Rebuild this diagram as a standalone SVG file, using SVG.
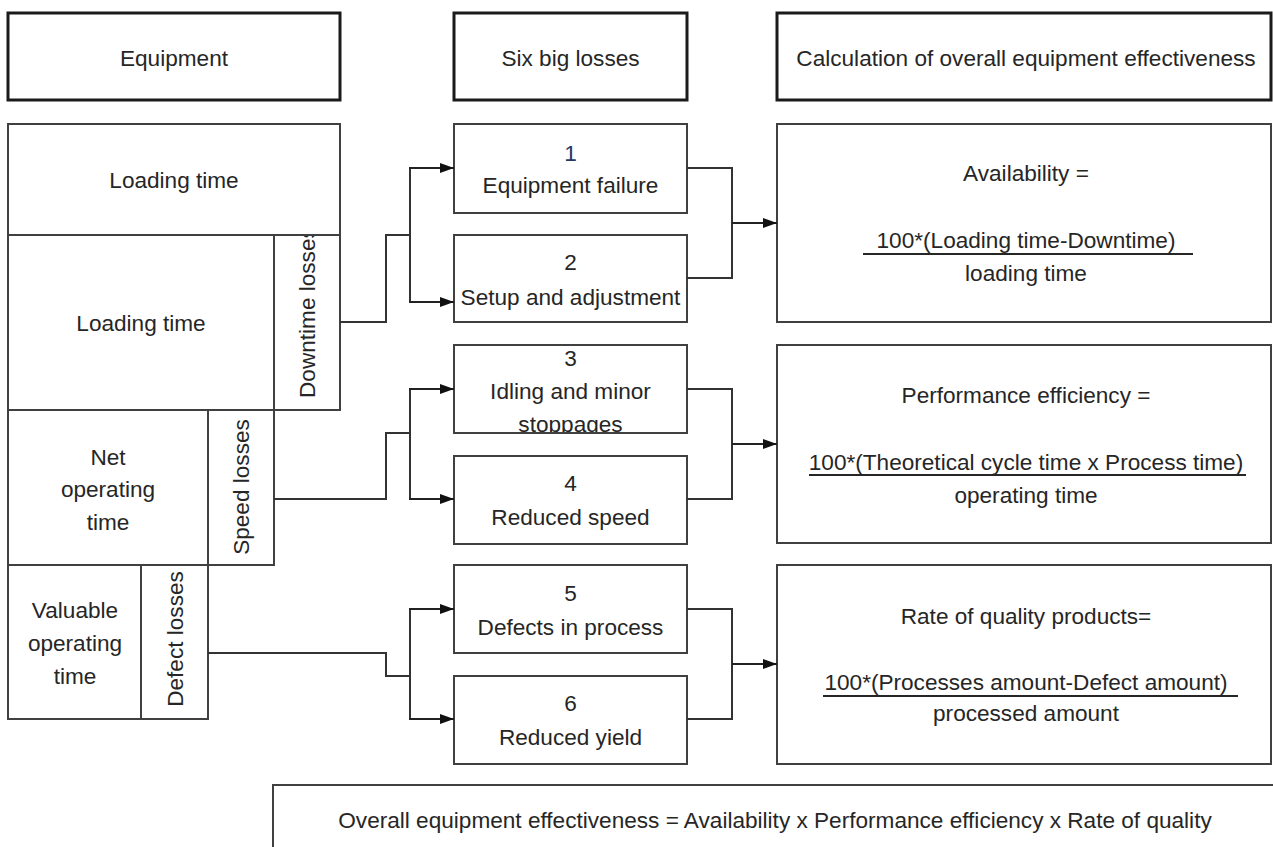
<svg xmlns="http://www.w3.org/2000/svg" width="1273" height="847" viewBox="0 0 1273 847">
<style>
text{font-family:"Liberation Sans",Arial,sans-serif;font-size:22.6px;fill:#262626;text-anchor:middle;dominant-baseline:central}
.hdr{fill:#fff;stroke:#1a1a1a;stroke-width:3}
.box{fill:#fff;stroke:#404040;stroke-width:2}
.con{fill:none;stroke:#333;stroke-width:2}
.arr{fill:none;stroke:#222;stroke-width:2;marker-end:url(#ah)}
.ul{stroke:#262626;stroke-width:2}
</style>
<defs>
<marker id="ah" markerUnits="userSpaceOnUse" markerWidth="14" markerHeight="10" refX="14" refY="5" orient="auto"><path d="M0,0 L14,5 L0,10 z" fill="#111"/></marker>
<clipPath id="clipDown"><rect x="275" y="236" width="64" height="173"/></clipPath>
<clipPath id="clipB3"><rect x="455" y="346" width="231" height="86"/></clipPath>
</defs>
<rect width="1273" height="847" fill="#fff"/>

<g id="hdr-equipment"><rect class="hdr" x="8" y="13" width="332" height="87"/><text x="174" y="58">Equipment</text></g>
<g id="hdr-losses"><rect class="hdr" x="454" y="13" width="233" height="87"/><text x="570.5" y="58">Six big losses</text></g>
<g id="hdr-calc"><rect class="hdr" x="777" y="13" width="494" height="87"/><text x="1026" y="58">Calculation of overall equipment effectiveness</text></g>

<g id="eq-loading1"><rect class="box" x="8" y="124" width="332" height="111"/><text x="174" y="180">Loading time</text></g>
<g id="eq-loading2"><rect class="box" x="8" y="235" width="266" height="175"/><text x="141" y="323">Loading time</text></g>
<g id="eq-downtime"><rect class="box" x="274" y="235" width="66" height="175"/><g clip-path="url(#clipDown)"><text transform="translate(307,398) rotate(-90)" x="0" y="0" style="text-anchor:start">Downtime losses</text></g></g>
<g id="eq-net"><rect class="box" x="8" y="410" width="200" height="155"/><text x="108" y="457">Net</text><text x="108" y="489.5">operating</text><text x="108" y="522">time</text></g>
<g id="eq-speed"><rect class="box" x="208" y="410" width="66" height="155"/><text transform="translate(241,487) rotate(-90)">Speed losses</text></g>
<g id="eq-valuable"><rect class="box" x="8" y="565" width="133" height="154"/><text x="75" y="610">Valuable</text><text x="75" y="643">operating</text><text x="75" y="676">time</text></g>
<g id="eq-defect"><rect class="box" x="141" y="565" width="67" height="154"/><text transform="translate(175,639) rotate(-90)">Defect losses</text></g>

<g id="loss1"><rect class="box" x="454" y="124" width="233" height="89"/><text x="570.5" y="153" style="fill:#203864">1</text><text x="570.5" y="185">Equipment failure</text></g>
<g id="loss2"><rect class="box" x="454" y="235" width="233" height="87"/><text x="570.5" y="262">2</text><text x="570.5" y="297">Setup and adjustment</text></g>
<g id="loss3"><rect class="box" x="454" y="345" width="233" height="88" style="fill:#fff"/><g clip-path="url(#clipB3)"><text x="570.5" y="358">3</text><text x="570.5" y="391">Idling and minor</text><text x="570.5" y="424">stoppages</text></g><rect x="454" y="345" width="233" height="88" style="fill:none;stroke:#404040;stroke-width:2"/></g>
<g id="loss4"><rect class="box" x="454" y="456" width="233" height="88"/><text x="570.5" y="483">4</text><text x="570.5" y="517">Reduced speed</text></g>
<g id="loss5"><rect class="box" x="454" y="565" width="233" height="88"/><text x="570.5" y="593">5</text><text x="570.5" y="627">Defects in process</text></g>
<g id="loss6"><rect class="box" x="454" y="676" width="233" height="88"/><text x="570.5" y="703">6</text><text x="570.5" y="737">Reduced yield</text></g>

<g id="calc-availability"><rect class="box" x="777" y="124" width="494" height="198"/><text x="1026" y="173">Availability =</text><text x="1026" y="240">100*(Loading time-Downtime)</text><line class="ul" x1="863" y1="254" x2="1193" y2="254"/><text x="1026" y="273">loading time</text></g>
<g id="calc-performance"><rect class="box" x="777" y="345" width="494" height="198"/><text x="1026" y="395">Performance efficiency =</text><text x="1026" y="462">100*(Theoretical cycle time x Process time)</text><line class="ul" x1="809" y1="475" x2="1246" y2="475"/><text x="1026" y="495">operating time</text></g>
<g id="calc-quality"><rect class="box" x="777" y="565" width="494" height="199"/><text x="1026" y="616">Rate of quality products=</text><text x="1026" y="682">100*(Processes amount-Defect amount)</text><line class="ul" x1="823" y1="696" x2="1238" y2="696"/><text x="1026" y="713">processed amount</text></g>

<g id="oee"><rect class="box" x="273" y="785" width="1012" height="80"/><text x="775" y="820">Overall equipment effectiveness = Availability x Performance efficiency x Rate of quality</text></g>

<g id="connectors">
<polyline class="con" points="340,322 386,322 386,235 410,235"/>
<line class="con" x1="410" y1="168" x2="410" y2="302"/>
<line class="arr" x1="409" y1="168" x2="454" y2="168"/>
<line class="arr" x1="409" y1="302" x2="454" y2="302"/>
<polyline class="con" points="687,168 732,168 732,278 687,278"/>
<line class="arr" x1="732" y1="223" x2="777" y2="223"/>

<polyline class="con" points="274,499 386,499 386,433 410,433"/>
<line class="con" x1="410" y1="389" x2="410" y2="499"/>
<line class="arr" x1="409" y1="389" x2="454" y2="389"/>
<line class="arr" x1="409" y1="499" x2="454" y2="499"/>
<polyline class="con" points="687,389 732,389 732,499 687,499"/>
<line class="arr" x1="732" y1="444" x2="777" y2="444"/>

<polyline class="con" points="208,653 386,653 386,676 410,676"/>
<line class="con" x1="410" y1="609" x2="410" y2="719"/>
<line class="arr" x1="409" y1="609" x2="454" y2="609"/>
<line class="arr" x1="409" y1="719" x2="454" y2="719"/>
<polyline class="con" points="687,609 732,609 732,719 687,719"/>
<line class="arr" x1="732" y1="664" x2="777" y2="664"/>
</g>
</svg>
